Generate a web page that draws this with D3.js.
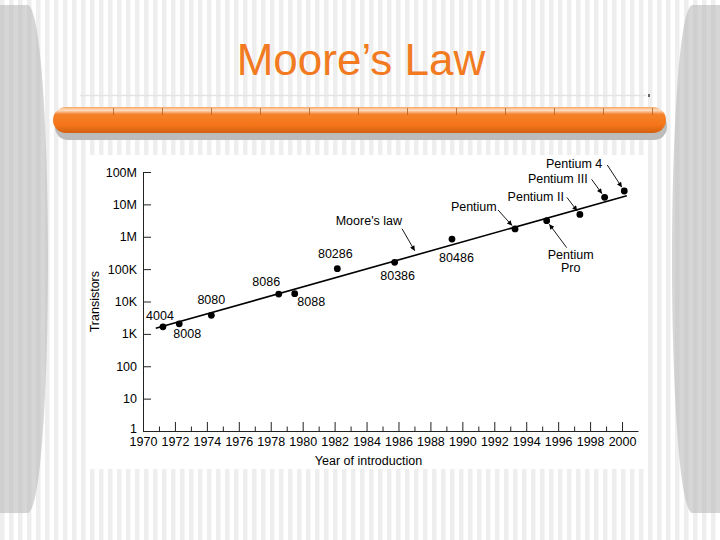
<!DOCTYPE html>
<html>
<head>
<meta charset="utf-8">
<script src="https://cdn.jsdelivr.net/npm/d3@7"></script>
<style>
  body { margin: 0; background: #fff; }
  svg { display: block; font-family: "Liberation Sans", Arial, sans-serif; }
</style>
</head>
<body>
<svg id="chart" width="720" height="540"></svg>
<script>
// chart data
var chips = ["4004", "8008", "8080", "8086", "8088", "80286", "80386", "80486",
  "Pentium", "Pentium Pro", "Pentium II", "Pentium III", "Pentium 4"];
var years = [1971.25, 1972.27, 1974.28, 1978.5, 1979.5, 1982.17, 1985.76, 1989.35,
  1993.3, 1995.28, 1997.36, 1998.91, 2000.14];
var transistors = [1650, 2050, 3750, 17000, 17400, 103000, 162000, 850000,
  1740000, 3140000, 4900000, 16500000, 25900000];
var mooreYears = [1970.8, 2000.3];
var mooreTransistors = [1490, 18600000];
var mooreLabelYear = 1987.16;
var yTicks = [1, 10, 100, 1e3, 1e4, 1e5, 1e6, 1e7, 1e8];
var yTickLabels = ["1", "10", "100", "1K", "10K", "100K", "1M", "10M", "100M"];
var xMajor = d3.range(1970, 2001, 2);
var xMinor = d3.range(1971, 2000, 2);

// label placement, pixel offsets from the point
var labelPos = {
  "4004": {dx: -3, dy: -7, anchor: "middle"},
  "8008": {dx: 8, dy: 14.5, anchor: "middle"},
  "8080": {dx: 0, dy: -11, anchor: "middle"},
  "8086": {dx: -12.5, dy: -8, anchor: "middle"},
  "8088": {dx: 16.5, dy: 12.5, anchor: "middle"},
  "80286": {dx: -2, dy: -10.5, anchor: "middle"},
  "80386": {dx: 3, dy: 18, anchor: "middle"},
  "80486": {dx: 4.5, dy: 23, anchor: "middle"},
  "Pentium": {dx: -18.3, dy: -18.3, anchor: "end", arrow: [-17, -19]},
  "Pentium Pro": {dx: 24, dy: 38.3, anchor: "middle", arrow: [20, 27]},
  "Pentium II": {dx: -16, dy: -13.6, anchor: "end", arrow: [-13, -17]},
  "Pentium III": {dx: -17, dy: -14, anchor: "end", arrow: [-13, -18]},
  "Pentium 4": {dx: -22, dy: -23.3, anchor: "end", arrow: [-17, -26]}
};

var svg = d3.select("svg#chart");
var defs = svg.append("defs");

////////////////////////////////////////////
// slide background
////////////////////////////////////////////
var pat = defs.append("pattern").attr("id", "stripes")
  .attr("patternUnits", "userSpaceOnUse").attr("width", 9).attr("height", 10);
pat.append("rect").attr("width", 9).attr("height", 10).attr("fill", "#ffffff");
pat.append("rect").attr("width", 4.5).attr("height", 10).attr("fill", "#eeeeee");

var pat2 = defs.append("pattern").attr("id", "stripes2")
  .attr("patternUnits", "userSpaceOnUse").attr("width", 9).attr("height", 10);
pat2.append("rect").attr("width", 9).attr("height", 10).attr("fill", "#d6d6d6");
pat2.append("rect").attr("width", 4.5).attr("height", 10).attr("fill", "#cfcfcf");

svg.append("rect").attr("width", 720).attr("height", 540).attr("fill", "url(#stripes)");

// grey side pieces
svg.append("path")
  .attr("d", "M0,5 H28 C42,10 48,150 48,260 C48,370 42,508 28,513 H0 Z")
  .attr("fill", "url(#stripes2)");
svg.append("path")
  .attr("d", "M720,5 H692 C678,10 672,150 672,260 C672,370 678,508 692,513 H720 Z")
  .attr("fill", "url(#stripes2)");

// title
svg.append("text")
  .attr("x", 361).attr("y", 75)
  .attr("text-anchor", "middle")
  .attr("font-size", "44px")
  .attr("fill", "#f27a21")
  .text("Moore\u2019s Law");

// faint rule and dot
svg.append("line").attr("x1", 80).attr("x2", 646).attr("y1", 95.5).attr("y2", 95.5)
  .attr("stroke", "#e4e4e4").attr("stroke-width", 1.5);
svg.append("rect").attr("x", 648).attr("y", 94).attr("width", 2).attr("height", 3).attr("fill", "#666");

// orange bar
var grad = defs.append("linearGradient").attr("id", "orange")
  .attr("x1", 0).attr("x2", 0).attr("y1", 0).attr("y2", 1);
grad.append("stop").attr("offset", "0%").attr("stop-color", "#f7a360");
grad.append("stop").attr("offset", "12%").attr("stop-color", "#fde0c8");
grad.append("stop").attr("offset", "28%").attr("stop-color", "#f5812a");
grad.append("stop").attr("offset", "70%").attr("stop-color", "#f47519");
grad.append("stop").attr("offset", "100%").attr("stop-color", "#d2600f");

svg.append("rect").attr("x", 55).attr("y", 113).attr("width", 612).attr("height", 27)
  .attr("rx", 13).attr("fill", "#bcbcbc");
svg.append("rect").attr("x", 53).attr("y", 107).attr("width", 613).attr("height", 26)
  .attr("rx", 13).attr("fill", "url(#orange)");
svg.append("g").selectAll("line")
  .data(d3.range(12))
  .enter().append("line")
  .attr("x1", d => 113.5 + d * 49).attr("x2", d => 113.5 + d * 49)
  .attr("y1", 108).attr("y2", 115)
  .attr("stroke", "#b8621e").attr("stroke-width", 0.8);

////////////////////////////////////////////
// chart
////////////////////////////////////////////
svg.append("rect").attr("x", 88).attr("y", 155).attr("width", 558).attr("height", 314)
  .attr("fill", "#ffffff");

var x = d3.scaleLinear().domain([1970, 2001]).range([143, 638]);
var y = d3.scaleLog().domain([1, 1e8]).range([431, 172]);

var fs = "12.5px";
var g = svg.append("g").attr("font-size", fs);

// y axis, ticks point inward
g.append("g")
  .attr("class", "yaxis")
  .attr("transform", `translate(${x(1970)},0)`)
  .call(d3.axisLeft(y).tickValues(yTicks)
    .tickFormat((d, i) => yTickLabels[i])
    .tickSizeInner(-8).tickSizeOuter(0).tickPadding(6))
  .call(a => a.selectAll("text").attr("font-size", fs).attr("font-family", null))
  .call(a => a.selectAll(".tick text").filter(d => d == 1).attr("dy", "0.1em"));

// x axis, major and minor ticks point up
g.append("g")
  .attr("class", "xaxis")
  .attr("transform", `translate(0,${y(1)})`)
  .call(d3.axisBottom(x).tickValues(xMajor).tickFormat(d3.format("d"))
    .tickSizeInner(-9).tickSizeOuter(0).tickPadding(6))
  .call(a => a.selectAll("text").attr("font-size", fs).attr("font-family", null));

g.append("g")
  .attr("transform", `translate(0,${y(1)})`)
  .call(d3.axisBottom(x).tickValues(xMinor).tickFormat("")
    .tickSizeInner(-4.5).tickSizeOuter(0))
  .call(a => a.select(".domain").remove());

g.selectAll(".domain, .tick line").attr("stroke", "#222");

// axis titles
g.append("text")
  .attr("transform", `translate(98.5,${(y(1e3) + y(1e4)) / 2 - 16}) rotate(-90)`)
  .attr("text-anchor", "middle")
  .text("Transistors");
g.append("text")
  .attr("x", 368.5).attr("y", 465)
  .attr("text-anchor", "middle")
  .text("Year of introduction");

// Moore's law line
var mooreLine = d3.line()
  .x(d => x(d[0]))
  .y(d => y(d[1]));
var moorePts = mooreYears.map((d, i) => [d, mooreTransistors[i]]);
g.append("path")
  .datum(moorePts)
  .attr("d", mooreLine)
  .attr("fill", "none")
  .attr("stroke", "#000")
  .attr("stroke-width", 1.6);

// points
var pts = chips.map((c, i) => ({name: c, year: years[i], n: transistors[i]}));
g.append("g").selectAll("circle")
  .data(pts)
  .enter().append("circle")
  .attr("cx", d => x(d.year))
  .attr("cy", d => y(d.n))
  .attr("r", 3.4)
  .attr("fill", "#000");

// arrowhead
defs.append("marker").attr("id", "head")
  .attr("viewBox", "0 0 10 10").attr("refX", 10).attr("refY", 5)
  .attr("markerWidth", 7).attr("markerHeight", 5)
  .attr("markerUnits", "userSpaceOnUse")
  .attr("orient", "auto")
  .append("path").attr("d", "M0,0 L10,5 L0,10 Z").attr("fill", "#000");

function arrow(px, py, off) {
  var sx = px + off[0], sy = py + off[1];
  var len = Math.hypot(off[0], off[1]);
  var gap = 4.5;
  g.append("line")
    .attr("x1", sx).attr("y1", sy)
    .attr("x2", px + off[0] / len * gap).attr("y2", py + off[1] / len * gap)
    .attr("stroke", "#000").attr("stroke-width", 0.9)
    .attr("marker-end", "url(#head)");
}

// chip labels
pts.forEach(function (d) {
  var lp = labelPos[d.name];
  var px = x(d.year), py = y(d.n);
  if (d.name == "Pentium Pro") {
    var t = g.append("text").attr("text-anchor", "middle");
    t.append("tspan").attr("x", px + lp.dx).attr("y", py + lp.dy).text("Pentium");
    t.append("tspan").attr("x", px + lp.dx).attr("y", py + lp.dy + 13).text("Pro");
  } else {
    g.append("text")
      .attr("x", px + lp.dx).attr("y", py + lp.dy)
      .attr("text-anchor", lp.anchor)
      .text(d.name);
  }
  if (lp.arrow) arrow(px, py, lp.arrow);
});

// Moore's law label
var lawY = Math.exp(d3.scaleLinear().domain(mooreYears)
  .range(mooreTransistors.map(Math.log))(mooreLabelYear));
var lx = x(mooreLabelYear), ly = y(lawY);
g.append("text")
  .attr("x", lx - 15).attr("y", ly - 30)
  .attr("text-anchor", "end")
  .text("Moore's law");
arrow(lx, ly, [-15, -26]);
</script>
</body>
</html>
